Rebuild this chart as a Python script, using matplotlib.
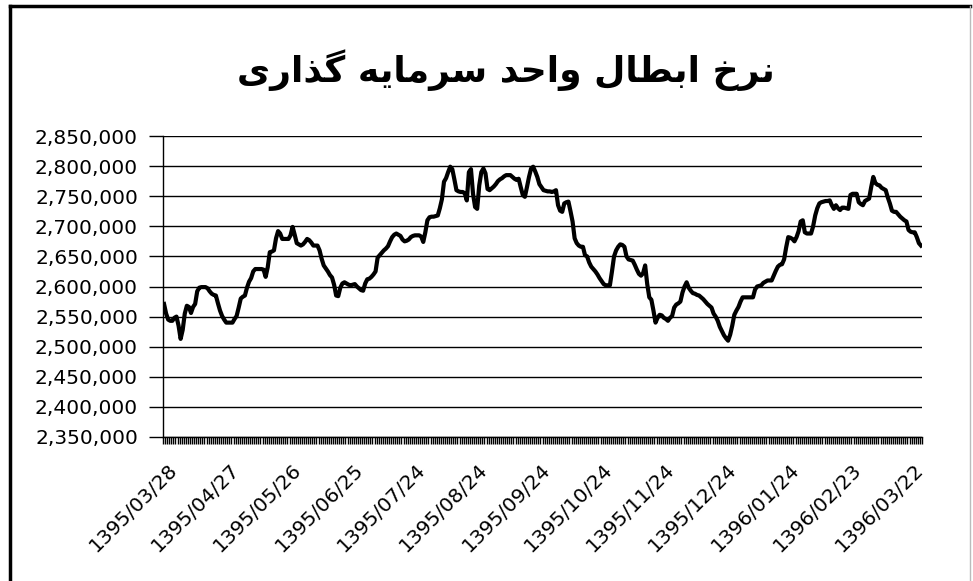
import numpy as np
import matplotlib.pyplot as plt
from matplotlib.lines import Line2D
from matplotlib.transforms import ScaledTranslation

# daily redemption price (thousands), 1395/03/28 .. 1396/03/27
price_k = [
    2571, 2555, 2545, 2543, 2543, 2548, 2550, 2535, 2513, 2528,
    2555, 2568, 2566, 2556, 2566, 2571, 2592, 2598, 2599, 2599,
    2599, 2597, 2592, 2588, 2586, 2585, 2572, 2560, 2551, 2545,
    2540, 2540, 2540, 2540, 2546, 2551, 2565, 2580, 2583, 2585,
    2598, 2608, 2614, 2625, 2629, 2629, 2629, 2629, 2628, 2616,
    2632, 2657, 2658, 2660, 2680, 2692, 2688, 2679, 2679, 2679, 2679,
    2685, 2699, 2686, 2672, 2670, 2668, 2670, 2674, 2679, 2677,
    2673, 2668, 2668, 2668, 2660, 2646, 2635, 2630, 2625, 2619,
    2615, 2603, 2585, 2584, 2598, 2605, 2607, 2605, 2603, 2602,
    2603, 2604, 2600, 2597, 2594, 2593, 2605, 2612, 2613, 2616,
    2620, 2625, 2648, 2652, 2656, 2660, 2663, 2667, 2675, 2682,
    2686, 2688, 2686, 2684, 2678, 2675, 2676, 2678, 2682, 2684,
    2685, 2685, 2685, 2683, 2674, 2690, 2710, 2715, 2716, 2716, 2717,
    2718, 2730, 2745, 2774, 2780, 2790, 2799, 2795, 2778, 2760,
    2758, 2757, 2757, 2755, 2743, 2790, 2795, 2754, 2732, 2729,
    2768, 2790, 2796, 2788, 2762, 2760, 2763, 2766, 2770, 2775,
    2778, 2780, 2783, 2785, 2785, 2785, 2782, 2779, 2777, 2779,
    2765, 2752, 2749, 2765, 2782, 2796, 2799, 2791, 2782, 2770,
    2765, 2760, 2759, 2758, 2758, 2757, 2758, 2760, 2735, 2726, 2724,
    2738, 2740, 2741, 2725, 2708, 2680, 2672, 2668, 2666, 2666,
    2652, 2650, 2640, 2633, 2629, 2625, 2620, 2614, 2609, 2604,
    2602, 2602, 2602, 2625, 2650, 2660, 2666, 2670, 2669, 2666,
    2650, 2645, 2644, 2643, 2636, 2628, 2621, 2618, 2622, 2635,
    2604, 2582, 2578, 2560, 2540, 2548, 2553, 2552, 2548, 2546,
    2543, 2548, 2551, 2565, 2570, 2572, 2575, 2590, 2600, 2607, 2598,
    2593, 2589, 2588, 2586, 2585, 2582, 2579, 2575, 2571, 2568,
    2565, 2555, 2550, 2543, 2533, 2526, 2519, 2514, 2510, 2520,
    2535, 2553, 2560, 2566, 2575, 2582, 2582, 2582, 2582, 2582,
    2582, 2595, 2600, 2601, 2602, 2606, 2608, 2610, 2610, 2610,
    2618, 2626, 2633, 2636, 2637, 2645, 2665, 2682, 2681, 2679,
    2675, 2682, 2692, 2708, 2710, 2690, 2688, 2688, 2688, 2700, 2718,
    2730, 2738, 2740, 2741, 2742, 2742, 2743, 2735, 2729, 2735,
    2730, 2727, 2731, 2731, 2730, 2729, 2752, 2754, 2754, 2754,
    2740, 2737, 2735, 2742, 2744, 2746, 2765, 2782, 2772, 2769,
    2768, 2764, 2762, 2760, 2748, 2738, 2726, 2724, 2724, 2720,
    2716, 2713, 2710, 2708, 2694, 2691, 2690, 2690, 2682, 2672,
    2668,
]

date_labels = ['1395/03/28', '1395/04/27', '1395/05/26', '1395/06/25', '1395/07/24',
               '1395/08/24', '1395/09/24', '1395/10/24', '1395/11/24', '1395/12/24',
               '1396/01/24', '1396/02/23', '1396/03/22']
label_step = 30

y_ticks = [2350000 + 50000 * k for k in range(11)]

title = 'نرخ ابطال واحد سرمایه گذاری'

# simple persian shaping (matplotlib has no RTL / joining support)
FORMS = {
    'ا': (0xFE8D, 0xFE8E), 'د': (0xFEA9, 0xFEAA), 'ذ': (0xFEAB, 0xFEAC),
    'ر': (0xFEAD, 0xFEAE), 'و': (0xFEED, 0xFEEE),
    'ب': (0xFE8F, 0xFE90, 0xFE91, 0xFE92), 'ح': (0xFEA1, 0xFEA2, 0xFEA3, 0xFEA4),
    'خ': (0xFEA5, 0xFEA6, 0xFEA7, 0xFEA8), 'س': (0xFEB1, 0xFEB2, 0xFEB3, 0xFEB4),
    'ط': (0xFEC1, 0xFEC2, 0xFEC3, 0xFEC4), 'ل': (0xFEDD, 0xFEDE, 0xFEDF, 0xFEE0),
    'م': (0xFEE1, 0xFEE2, 0xFEE3, 0xFEE4), 'ن': (0xFEE5, 0xFEE6, 0xFEE7, 0xFEE8),
    'ه': (0xFEE9, 0xFEEA, 0xFEEB, 0xFEEC), 'ی': (0xFBFC, 0xFBFD, 0xFBFE, 0xFBFF),
    'گ': (0xFB92, 0xFB93, 0xFB94, 0xFB95),
}


def shape_fa(text):
    out = []
    for k, c in enumerate(text):
        if c not in FORMS:
            out.append(c)
            continue
        prev = text[k - 1] if k > 0 else ''
        nxt = text[k + 1] if k + 1 < len(text) else ''
        join_prev = prev in FORMS and len(FORMS[prev]) == 4
        join_next = len(FORMS[c]) == 4 and nxt in FORMS
        f = FORMS[c]
        if join_prev and join_next:
            out.append(chr(f[3]))
        elif join_prev:
            out.append(chr(f[1]))
        elif join_next:
            out.append(chr(f[2]))
        else:
            out.append(chr(f[0]))
    return ''.join(out)[::-1]


values = np.array(price_k) * 1000
x = np.arange(len(values))

fig = plt.figure(figsize=(9.73, 5.81), dpi=100)
ax = fig.add_axes([163 / 973, 1 - 437 / 581, (922 - 163) / 973, (437 - 136) / 581])

ax.plot(x, values, color='black', linewidth=3.0, solid_joinstyle='round')

# excel style category axis: points sit between tick marks
ax.set_xlim(-0.5, len(values) - 0.5)
ax.set_ylim(2350000, 2850000)
ax.set_yticks(y_ticks)
ax.set_yticklabels([f'{v:,}' for v in y_ticks], fontsize=14.5, family='DejaVu Sans')
ax.yaxis.grid(True, color='black', linewidth=1.0)
ax.set_axisbelow(True)

ax.set_xticks(x[::label_step])
ax.set_xticks(np.arange(len(values) + 1) - 0.5, minor=True)
ax.set_xticklabels(date_labels, rotation=45, ha='right', va='center',
                   rotation_mode='anchor', fontsize=14.5, family='DejaVu Sans')
ax.tick_params(axis='x', which='minor', length=5, width=1.0, direction='out')
ax.tick_params(axis='x', which='major', length=5, width=0, direction='out', pad=0)
ax.tick_params(axis='y', length=10, width=1.0, direction='out', pad=8)

offset = ScaledTranslation(0.10, -0.23, fig.dpi_scale_trans)
for lab in ax.get_xticklabels():
    lab.set_transform(lab.get_transform() + offset)

for s in ['top', 'right']:
    ax.spines[s].set_visible(False)
ax.spines['left'].set_linewidth(1.0)
ax.spines['bottom'].set_linewidth(1.0)

fig.text(506 / 973, 1 - 70 / 581, shape_fa(title), ha='center', va='center',
         fontsize=26, fontweight='bold', family='DejaVu Sans')

# outer chart frame
fig.add_artist(Line2D([10 / 973, 10 / 973], [0, 1 - 6 / 581], color='black', linewidth=2.5))
fig.add_artist(Line2D([10 / 973, 970 / 973], [1 - 6 / 581, 1 - 6 / 581], color='black', linewidth=2.5))
fig.add_artist(Line2D([970 / 973, 970 / 973], [0, 1 - 6 / 581], color='#bbbbbb', linewidth=1.0))

fig.savefig('out.png', dpi=100)
